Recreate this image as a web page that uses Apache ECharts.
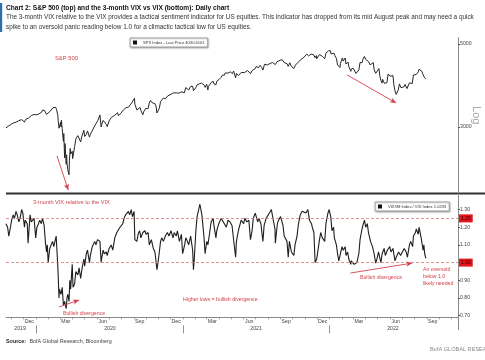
<!DOCTYPE html>
<html><head><meta charset="utf-8">
<script src="https://cdn.jsdelivr.net/npm/echarts@6/dist/echarts.min.js"></script>
<style>html,body{margin:0;padding:0;background:#fff}#c{width:485px;height:360px}</style>
</head><body><div id="c"></div>
<script>
// ---------------- DATA ----------------
const spxDates = ['2019-10-18','2019-10-22','2019-10-25','2019-10-30','2019-11-01','2019-11-05','2019-11-08','2019-11-12','2019-11-15','2019-11-19','2019-11-22','2019-11-26','2019-12-03','2019-12-06','2019-12-10','2019-12-13','2019-12-17','2019-12-20','2019-12-27','2019-12-31',
'2020-01-03','2020-01-08','2020-01-10','2020-01-15','2020-01-17','2020-01-22','2020-01-24','2020-01-27','2020-01-29','2020-01-31','2020-02-04','2020-02-07','2020-02-12','2020-02-14','2020-02-19','2020-02-21','2020-02-24','2020-02-25','2020-02-27','2020-02-28','2020-03-02','2020-03-03','2020-03-04','2020-03-06','2020-03-09','2020-03-10','2020-03-12','2020-03-13','2020-03-16','2020-03-17','2020-03-18','2020-03-19','2020-03-20','2020-03-23','2020-03-24','2020-03-26','2020-03-27','2020-03-31','2020-04-01','2020-04-03','2020-04-06','2020-04-09','2020-04-14','2020-04-17','2020-04-21','2020-04-24','2020-04-29','2020-05-01','2020-05-05','2020-05-08','2020-05-13','2020-05-15','2020-05-19','2020-05-22','2020-05-27','2020-05-29','2020-06-03','2020-06-08','2020-06-11','2020-06-12','2020-06-16','2020-06-19','2020-06-24','2020-06-26','2020-07-01','2020-07-06','2020-07-10','2020-07-15','2020-07-17','2020-07-22','2020-07-24','2020-07-28','2020-07-31','2020-08-05','2020-08-07','2020-08-12','2020-08-14','2020-08-18','2020-08-21','2020-08-26','2020-08-28','2020-09-02','2020-09-03','2020-09-04','2020-09-08','2020-09-11','2020-09-16','2020-09-18','2020-09-21','2020-09-23','2020-09-25','2020-09-30','2020-10-02','2020-10-06','2020-10-09','2020-10-12','2020-10-16','2020-10-20','2020-10-23','2020-10-26','2020-10-28','2020-10-30','2020-11-03','2020-11-06','2020-11-09','2020-11-13','2020-11-18','2020-11-20','2020-11-24','2020-11-27','2020-12-02','2020-12-04','2020-12-08','2020-12-11','2020-12-16','2020-12-18','2020-12-21','2020-12-24','2020-12-29','2020-12-31',
'2021-01-04','2021-01-08','2021-01-12','2021-01-15','2021-01-20','2021-01-22','2021-01-25','2021-01-27','2021-01-29','2021-02-02','2021-02-05','2021-02-10','2021-02-12','2021-02-16','2021-02-19','2021-02-23','2021-02-25','2021-03-01','2021-03-04','2021-03-05','2021-03-09','2021-03-12','2021-03-17','2021-03-19','2021-03-23','2021-03-24','2021-03-26','2021-04-01','2021-04-06','2021-04-09','2021-04-14','2021-04-16','2021-04-20','2021-04-23','2021-04-29','2021-04-30','2021-05-04','2021-05-07','2021-05-10','2021-05-12','2021-05-14','2021-05-19','2021-05-21','2021-05-26','2021-05-28','2021-06-03','2021-06-07','2021-06-11','2021-06-15','2021-06-18','2021-06-22','2021-06-25','2021-06-30','2021-07-02','2021-07-08','2021-07-12','2021-07-16','2021-07-19','2021-07-23','2021-07-27','2021-07-30','2021-08-03','2021-08-06','2021-08-12','2021-08-16','2021-08-19','2021-08-23','2021-08-27','2021-09-02','2021-09-07','2021-09-10','2021-09-14','2021-09-17','2021-09-20','2021-09-24','2021-09-28','2021-09-30','2021-10-04','2021-10-08','2021-10-12','2021-10-15','2021-10-19','2021-10-22','2021-10-26','2021-10-29','2021-11-02','2021-11-05','2021-11-10','2021-11-12','2021-11-16','2021-11-18','2021-11-22','2021-11-26','2021-11-29','2021-11-30','2021-12-01','2021-12-03','2021-12-07','2021-12-10','2021-12-14','2021-12-17','2021-12-20','2021-12-23','2021-12-29','2021-12-31',
'2022-01-03','2022-01-05','2022-01-07','2022-01-12','2022-01-14','2022-01-18','2022-01-21','2022-01-24','2022-01-27','2022-01-28','2022-02-02','2022-02-04','2022-02-09','2022-02-11','2022-02-16','2022-02-18','2022-02-23','2022-02-24','2022-03-01','2022-03-04','2022-03-08','2022-03-11','2022-03-15','2022-03-18','2022-03-23','2022-03-25','2022-03-29','2022-04-01','2022-04-05','2022-04-08','2022-04-12','2022-04-14','2022-04-20','2022-04-22','2022-04-26','2022-04-29','2022-05-04','2022-05-06','2022-05-09','2022-05-12','2022-05-13','2022-05-18','2022-05-20','2022-05-24','2022-05-27','2022-06-01','2022-06-03','2022-06-08','2022-06-10','2022-06-13','2022-06-16','2022-06-17','2022-06-21','2022-06-24','2022-06-28','2022-07-01','2022-07-06','2022-07-08','2022-07-13','2022-07-14','2022-07-19','2022-07-22','2022-07-26','2022-07-29','2022-08-02','2022-08-05','2022-08-10','2022-08-12','2022-08-16','2022-08-19','2022-08-22','2022-08-26','2022-08-29'];
const spxValues = [2986,2996,3023,3047,3067,3075,3093,3092,3120,3121,3110,3140,3093,3146,3133,3169,3193,3221,3240,3231,
3235,3253,3265,3289,3330,3321,3295,3244,3273,3225,3298,3328,3379,3380,3386,3338,3226,3128,2979,2954,3090,3003,3130,2972,2747,2882,2481,2711,2386,2529,2398,2409,2305,2237,2447,2630,2541,2585,2471,2489,2664,2790,2846,2875,2737,2837,2940,2831,2868,2930,2820,2864,2922,2955,3036,3044,3123,3232,3002,3041,3125,3098,3050,3009,3116,3180,3185,3227,3225,3276,3216,3218,3271,3328,3351,3380,3373,3390,3397,3479,3508,3580,3455,3427,3332,3341,3385,3319,3281,3237,3298,3363,3348,3361,3477,3534,3484,3443,3465,3401,3271,3270,3370,3509,3551,3585,3568,3558,3635,3638,3669,3699,3702,3663,3701,3709,3694,3703,3727,3756,
3701,3825,3801,3768,3852,3841,3855,3751,3714,3826,3887,3910,3934,3933,3907,3881,3829,3901,3768,3842,3875,3943,3974,3913,3910,3889,3975,4020,4074,4129,4125,4185,4135,4180,4211,4181,4165,4233,4189,4063,4174,4116,4156,4196,4204,4193,4227,4247,4247,4166,4246,4281,4298,4352,4321,4385,4327,4258,4412,4401,4395,4423,4437,4460,4480,4406,4479,4509,4537,4520,4459,4443,4433,4358,4455,4353,4308,4300,4391,4351,4471,4520,4545,4575,4605,4631,4698,4646,4683,4701,4704,4683,4595,4655,4567,4513,4538,4686,4712,4634,4620,4568,4726,4793,4766,
4797,4701,4677,4726,4663,4577,4398,4410,4327,4432,4590,4501,4587,4419,4475,4349,4226,4288,4306,4329,4171,4204,4262,4463,4456,4543,4632,4546,4525,4488,4397,4392,4459,4272,4175,4132,4300,4123,3991,3930,4024,3923,3901,3941,4158,4101,4109,4116,3901,3750,3667,3675,3765,3912,3821,3825,3845,3899,3801,3790,3937,3962,3921,4130,4091,4145,4210,4280,4305,4228,4138,4058,4031];

const ratioDates = ['2019-10-18','2019-10-22','2019-10-25','2019-10-29','2019-11-01','2019-11-05','2019-11-08','2019-11-12','2019-11-15','2019-11-19','2019-11-22','2019-11-26','2019-11-29','2019-12-03','2019-12-05','2019-12-10','2019-12-12','2019-12-17','2019-12-20','2019-12-24','2019-12-27','2019-12-31',
'2020-01-03','2020-01-07','2020-01-10','2020-01-14','2020-01-17','2020-01-21','2020-01-24','2020-01-27','2020-01-29','2020-01-31','2020-02-04','2020-02-07','2020-02-11','2020-02-14','2020-02-18','2020-02-20','2020-02-24','2020-02-25','2020-02-27','2020-02-28','2020-03-03','2020-03-06','2020-03-09','2020-03-12','2020-03-16','2020-03-18','2020-03-20','2020-03-23','2020-03-25','2020-03-27','2020-03-31','2020-04-02','2020-04-06','2020-04-09','2020-04-14','2020-04-17','2020-04-21','2020-04-24','2020-04-29','2020-05-01','2020-05-05','2020-05-08','2020-05-13','2020-05-15','2020-05-20','2020-05-26','2020-05-29','2020-06-02','2020-06-05','2020-06-08','2020-06-11','2020-06-12','2020-06-16','2020-06-19','2020-06-24','2020-06-26','2020-07-01','2020-07-06','2020-07-10','2020-07-15','2020-07-20','2020-07-24','2020-07-28','2020-07-31','2020-08-04','2020-08-07','2020-08-11','2020-08-14','2020-08-18','2020-08-21','2020-08-25','2020-08-28','2020-09-01','2020-09-03','2020-09-08','2020-09-11','2020-09-15','2020-09-18','2020-09-23','2020-09-28','2020-10-01','2020-10-06','2020-10-09','2020-10-14','2020-10-19','2020-10-23','2020-10-28','2020-10-30','2020-11-03','2020-11-06','2020-11-09','2020-11-13','2020-11-18','2020-11-23','2020-11-27','2020-12-02','2020-12-07','2020-12-10','2020-12-15','2020-12-18','2020-12-23','2020-12-28','2020-12-31',
'2021-01-05','2021-01-08','2021-01-12','2021-01-15','2021-01-20','2021-01-25','2021-01-27','2021-01-29','2021-02-02','2021-02-05','2021-02-09','2021-02-12','2021-02-17','2021-02-22','2021-02-25','2021-03-01','2021-03-04','2021-03-09','2021-03-12','2021-03-17','2021-03-19','2021-03-24','2021-03-26','2021-03-31','2021-04-06','2021-04-09','2021-04-14','2021-04-19','2021-04-23','2021-04-28','2021-05-03','2021-05-07','2021-05-12','2021-05-14','2021-05-18','2021-05-21','2021-05-26','2021-06-01','2021-06-04','2021-06-09','2021-06-14','2021-06-18','2021-06-22','2021-06-25','2021-06-30','2021-07-06','2021-07-09','2021-07-14','2021-07-19','2021-07-22','2021-07-27','2021-07-30','2021-08-04','2021-08-09','2021-08-13','2021-08-18','2021-08-19','2021-08-24','2021-08-27','2021-09-01','2021-09-07','2021-09-10','2021-09-14','2021-09-17','2021-09-20','2021-09-23','2021-09-28','2021-09-30','2021-10-04','2021-10-07','2021-10-12','2021-10-15','2021-10-20','2021-10-25','2021-10-29','2021-11-03','2021-11-08','2021-11-12','2021-11-17','2021-11-19','2021-11-23','2021-11-26','2021-11-30','2021-12-03','2021-12-07','2021-12-10','2021-12-14','2021-12-17','2021-12-20','2021-12-23','2021-12-28','2021-12-31',
'2022-01-04','2022-01-07','2022-01-11','2022-01-13','2022-01-18','2022-01-21','2022-01-24','2022-01-27','2022-02-01','2022-02-04','2022-02-09','2022-02-11','2022-02-15','2022-02-18','2022-02-23','2022-02-24','2022-02-28','2022-03-03','2022-03-07','2022-03-10','2022-03-15','2022-03-18','2022-03-22','2022-03-25','2022-03-29','2022-04-01','2022-04-05','2022-04-08','2022-04-13','2022-04-18','2022-04-22','2022-04-26','2022-04-29','2022-05-03','2022-05-06','2022-05-09','2022-05-12','2022-05-17','2022-05-20','2022-05-25','2022-05-31','2022-06-03','2022-06-08','2022-06-13','2022-06-16','2022-06-22','2022-06-27','2022-07-01','2022-07-06','2022-07-11','2022-07-14','2022-07-19','2022-07-22','2022-07-27','2022-07-29','2022-08-03','2022-08-05','2022-08-10','2022-08-12','2022-08-16','2022-08-18','2022-08-22','2022-08-24','2022-08-26','2022-08-29'];
const ratioValues = [1.22,1.20,1.15,1.20,1.24,1.27,1.25,1.29,1.27,1.23,1.25,1.30,1.28,1.20,1.24,1.22,1.11,1.27,1.23,1.22,1.25,1.14,
1.20,1.22,1.24,1.22,1.25,1.21,1.12,1.06,1.10,1.00,1.08,1.07,1.12,1.09,1.13,1.15,0.98,0.93,0.80,0.85,0.82,0.86,0.76,0.78,0.74,0.80,0.82,0.78,0.90,0.85,0.99,0.86,0.88,0.95,0.93,0.97,0.91,0.96,1.02,0.98,1.05,1.07,1.00,1.04,1.09,1.12,1.10,1.13,1.14,1.12,1.00,1.02,1.07,1.05,1.06,1.04,1.08,1.10,1.07,1.14,1.17,1.16,1.20,1.19,1.22,1.25,1.27,1.26,1.29,1.27,1.30,1.26,1.29,1.13,1.12,1.16,1.18,1.14,1.17,1.18,1.16,1.17,1.10,1.13,1.08,1.06,0.96,0.99,1.06,1.12,1.14,1.12,1.15,1.17,1.15,1.18,1.14,1.17,1.15,1.18,1.12,1.16,1.05,
1.10,1.14,1.12,1.10,1.15,1.07,0.96,1.02,1.18,1.26,1.30,1.33,1.27,1.15,1.05,1.12,1.10,1.18,1.23,1.25,1.21,1.14,1.18,1.22,1.25,1.24,1.22,1.20,1.24,1.23,1.21,1.22,1.03,1.12,1.17,1.20,1.24,1.22,1.25,1.23,1.24,1.13,1.18,1.25,1.28,1.23,1.25,1.22,1.12,1.21,1.25,1.26,1.28,1.30,1.31,1.19,1.11,1.22,1.24,1.26,1.21,1.15,1.16,1.12,1.03,1.12,1.06,1.07,1.04,1.10,1.15,1.21,1.27,1.29,1.30,1.28,1.30,1.24,1.22,1.20,1.17,1.00,1.02,1.01,1.13,1.17,1.14,1.15,1.12,1.22,1.28,1.30,
1.26,1.18,1.20,1.14,1.10,1.05,1.01,1.04,1.09,1.07,1.09,1.04,1.06,1.02,0.99,1.01,1.00,0.99,0.98,1.00,1.05,1.13,1.18,1.21,1.24,1.20,1.22,1.17,1.12,1.09,1.05,0.997,1.02,1.06,1.03,1.00,1.05,1.08,1.04,1.07,1.09,1.06,1.08,1.01,1.03,1.06,1.04,1.05,1.08,1.06,1.03,1.10,1.12,1.09,1.15,1.17,1.19,1.16,1.20,1.19,1.13,1.07,1.10,1.05,1.0233];

const spxLast = 4030.6101;
const ratioLast = 1.0233;
const spxTicks = [3000, 5000];
const ratioTicks = [0.70, 0.80, 0.90, 1.10, 1.20, 1.30];
const ratioLevels = [1.25, 1.00];
const monthLabelDates = ['2019-12-15','2020-03-15','2020-06-15','2020-09-15','2020-12-15','2021-03-15','2021-06-15','2021-09-15','2021-12-15','2022-03-15','2022-06-15','2022-09-15'];
const monthLabelTexts = ['Dec','Mar','Jun','Sep','Dec','Mar','Jun','Sep','Dec','Mar','Jun','Sep'];
const yearLabelDates = ['2019-11-22','2020-07-03','2021-07-02','2022-06-08'];
const yearLabelTexts = ['2019','2020','2021','2022'];
const yearBreakDates = ['2020-01-01','2021-01-01','2022-01-01'];
// annotation arrows: [startDate, startValue, endDate, endValue]
const spxArrows = [['2020-02-22', 2512, '2020-03-21', 2037], ['2022-02-14', 4132, '2022-06-16', 3478]];
const ratioArrows = [['2020-02-27', 0.749, '2020-04-17', 0.788], ['2022-02-22', 0.941, '2022-07-26', 0.997]];

// ---------------- CHART ----------------
const FONT = '"Liberation Sans",Arial,sans-serif';
const RED = '#d43f4a';
function ts(s){const p=s.split('-').map(Number);return Date.UTC(p[0],p[1]-1,p[2]);}
const xMin = ts('2019-10-18'), xMax = ts('2022-11-17');
const monthStarts = [];
for (let y=2019, m=10; y<2022 || (y===2022 && m<=10); ) { monthStarts.push(Date.UTC(y,m,1)); m++; if(m>11){m=0;y++;} }
const monthMap = {}; monthLabelDates.forEach((d,i)=>monthMap[ts(d)] = monthLabelTexts[i]);
const yearMap = {}; yearLabelDates.forEach((d,i)=>yearMap[ts(d)] = yearLabelTexts[i]);
const spxData = spxDates.map((d,i)=>[ts(d), spxValues[i]]);
const ratioData = ratioDates.map((d,i)=>[ts(d), ratioValues[i]]);
const spxName = 'SPX Index - Last Price ' + spxLast.toFixed(4);
const ratioName = 'VIX3M Index / VIX Index ' + ratioLast.toFixed(4);

function arrowItems(list){
  return list.map(a=>[
    {coord:[ts(a[0]), a[1]], symbol:'none', lineStyle:{color:RED,width:0.9,type:'solid'}, label:{show:false}},
    {coord:[ts(a[2]), a[3]], symbol:'arrow', symbolSize:[4,6]}
  ]);
}
function boxLabel(text, bg, fg){
  return {show:true, position:'end', formatter:text, backgroundColor:bg, color:fg, fontSize:5, fontFamily:FONT, padding:[2,2,1,2], distance:1};
}

const chart = echarts.init(document.getElementById('c'), null, {renderer:'canvas'});
const legendCommon = {orient:'horizontal', icon:'rect', itemWidth:4, itemHeight:4, itemGap:0,
  padding:[2.5,3,2.5,3], borderColor:'#9a9a9a', borderWidth:0.8, backgroundColor:'#fff',
  shadowBlur:2, shadowColor:'rgba(0,0,0,0.35)', shadowOffsetX:0.5, shadowOffsetY:0.5,
  selectedMode:false, textStyle:{fontSize:4.1, color:'#333', fontFamily:FONT, padding:[0,0,0,1]}};

const xBase = {type:'value', gridIndex:1, min:xMin, max:xMax, scale:true, splitLine:{show:false}};
chart.setOption({
  animation:false,
  backgroundColor:'#fff',
  textStyle:{fontFamily:FONT},
  grid:[
    {left:6, right:27, top:37.6, height:155.4, outerBoundsMode:'none', containLabel:false},
    {left:6, right:27, top:195.4, height:122, outerBoundsMode:'none', containLabel:false}
  ],
  legend:[
    Object.assign({data:[spxName], left:130, top:38}, legendCommon),
    Object.assign({data:[ratioName], left:375, top:202}, legendCommon)
  ],
  xAxis:[
    {type:'value', gridIndex:0, min:xMin, max:xMax, show:false, splitLine:{show:false}},
    Object.assign({}, xBase, {
      axisLine:{show:true, onZero:false, lineStyle:{color:'#8a8a8a', width:1}},
      axisTick:{show:true, customValues:monthStarts, length:2, lineStyle:{color:'#8a8a8a', width:0.8}},
      axisLabel:{show:true, customValues:monthLabelDates.map(ts), formatter:v=>monthMap[v]||'', fontSize:5.2, color:'#444', margin:2, fontFamily:FONT}}),
    Object.assign({}, xBase, {position:'bottom', offset:8,
      axisLine:{show:false, onZero:false},
      axisTick:{show:true, customValues:yearBreakDates.map(ts), length:8, lineStyle:{color:'#777', width:0.8}},
      axisLabel:{show:true, customValues:yearLabelDates.map(ts), formatter:v=>yearMap[v]||'', fontSize:5.2, color:'#444', margin:1, fontFamily:FONT}})
  ],
  yAxis:[
    {type:'log', gridIndex:0, position:'right', min:2000, max:5200,
      axisLine:{show:true, lineStyle:{color:'#8a8a8a', width:1}},
      axisTick:{show:true, customValues:spxTicks, length:2, lineStyle:{color:'#555'}},
      axisLabel:{show:true, customValues:spxTicks, fontSize:5.2, color:'#444', margin:2, fontFamily:FONT, formatter:v=>String(Math.round(v))},
      splitLine:{show:false},
      name:'Log', nameLocation:'middle', nameGap:13, nameRotate:-90, nameMoveOverlap:false,
      nameTextStyle:{color:'#a8a8a8', fontSize:11, fontFamily:'Liberation Sans, sans-serif'}},
    {type:'value', gridIndex:1, position:'right', min:0.69, max:1.38,
      axisLine:{show:true, lineStyle:{color:'#8a8a8a', width:1}},
      axisTick:{show:true, customValues:ratioTicks, length:2, lineStyle:{color:'#555'}},
      axisLabel:{show:true, customValues:ratioTicks, fontSize:5.2, color:'#444', margin:2, fontFamily:FONT, formatter:v=>v.toFixed(2)},
      splitLine:{show:false}}
  ],
  series:[
    {type:'line', name:spxName, xAxisIndex:0, yAxisIndex:0, data:spxData, showSymbol:false, symbol:'none',
      lineStyle:{color:'#262626', width:1}, itemStyle:{color:'#111'},
      markLine:{silent:true, symbol:['none','none'], animation:false,
        data:[
          {yAxis:spxLast, lineStyle:{opacity:0}, label:boxLabel(spxLast.toFixed(4), '#111', '#fff')}
        ].concat(arrowItems(spxArrows))
      }},
    {type:'line', name:ratioName, xAxisIndex:1, yAxisIndex:1, data:ratioData, showSymbol:false, symbol:'none',
      lineStyle:{color:'#1e1e1e', width:1.1}, itemStyle:{color:'#111'},
      markLine:{silent:true, symbol:['none','none'], animation:false,
        data:[
          {yAxis:ratioLevels[0], lineStyle:{color:'#d77a7a', width:0.8, type:[3,2]}, label:boxLabel(ratioLevels[0].toFixed(2), '#e3151c', '#3a0000')},
          {yAxis:ratioLast, lineStyle:{opacity:0}, label:boxLabel(ratioLast.toFixed(4), '#111', '#fff')},
          {yAxis:ratioLevels[1], lineStyle:{color:'#d77a7a', width:0.8, type:[3,2]}, label:boxLabel(ratioLevels[1].toFixed(2), '#e3151c', '#3a0000')}
        ].concat(arrowItems(ratioArrows))
      }}
  ],
  graphic:[
    {type:'rect', shape:{x:0, y:3, width:2.2, height:29}, style:{fill:'#2d6db5'}, silent:true},
    {type:'text', x:6, y:8, style:{text:'Chart 2: S&P 500 (top) and the 3-month VIX vs VIX (bottom): Daily chart', font:'bold 6.6px '+FONT, fill:'#111', verticalAlign:'middle', textVerticalAlign:'middle'}},
    {type:'text', x:6, y:17.5, style:{text:'The 3-month VIX relative to the VIX provides a tactical sentiment indicator for US equities. This indicator has dropped from its mid August peak and may need a quick', font:'6.4px '+FONT, fill:'#333', verticalAlign:'middle', textVerticalAlign:'middle'}},
    {type:'text', x:6, y:27.5, style:{text:'spike to an oversold panic reading below 1.0 for a climactic tactical low for US equities.', font:'6.4px '+FONT, fill:'#333', verticalAlign:'middle', textVerticalAlign:'middle'}},
    {type:'line', shape:{x1:6, y1:193.6, x2:485, y2:193.6}, style:{stroke:'#333', lineWidth:2}, silent:true},
    {type:'line', shape:{x1:458.5, y1:317, x2:458.5, y2:330}, style:{stroke:'#8a8a8a', lineWidth:1}, silent:true},
    {type:'text', x:55, y:58, style:{text:'S&P 500', font:'5.8px '+FONT, fill:RED, verticalAlign:'middle', textVerticalAlign:'middle'}},
    {type:'text', x:33, y:202, style:{text:'3-month VIX relative to the VIX', font:'5.6px '+FONT, fill:RED, verticalAlign:'middle', textVerticalAlign:'middle'}},
    {type:'text', x:63, y:314, style:{text:'Bullish divergence', font:'5.2px '+FONT, fill:RED, verticalAlign:'middle', textVerticalAlign:'middle'}},
    {type:'text', x:183, y:300, style:{text:'Higher lows = bullish divergence', font:'5.2px '+FONT, fill:RED, verticalAlign:'middle', textVerticalAlign:'middle'}},
    {type:'text', x:360, y:278, style:{text:'Bullish divergence', font:'5.2px '+FONT, fill:RED, verticalAlign:'middle', textVerticalAlign:'middle'}},
    {type:'text', x:423, y:266.5, style:{text:'An oversold\nbelow 1.0\nlikely needed', font:'5.2px '+FONT, fill:RED, lineHeight:7, verticalAlign:'top', textVerticalAlign:'top'}},
    {type:'text', x:6, y:342, style:{rich:{b:{font:'bold 5.4px '+FONT, fill:'#222'}, n:{font:'5.4px '+FONT, fill:'#444'}}, text:'{b|Source:} {n|BofA Global Research, Bloomberg}', verticalAlign:'middle', textVerticalAlign:'middle'}},
    {type:'text', x:430, y:349, style:{text:'BofA GLOBAL RESEARCH', font:'5.6px '+FONT, fill:'#8a8a8a', verticalAlign:'middle', textVerticalAlign:'middle'}}
  ]
});
</script></body></html>
